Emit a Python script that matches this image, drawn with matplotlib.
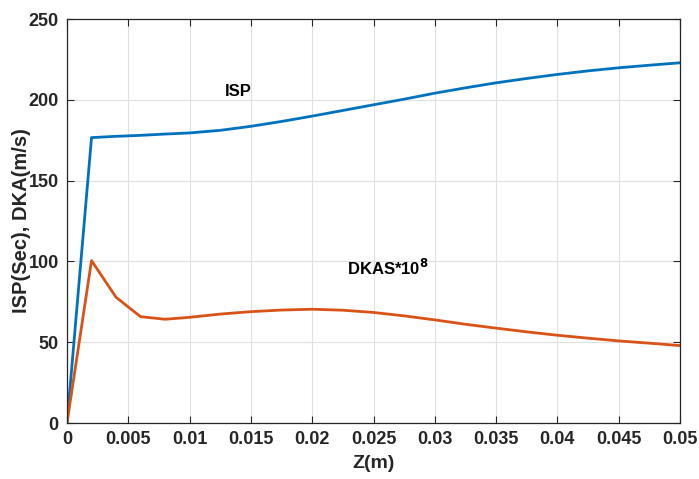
import matplotlib
matplotlib.use("Agg")
import matplotlib.pyplot as plt
from matplotlib import font_manager

z = [0, 0.002, 0.004, 0.006, 0.008, 0.010, 0.0125, 0.015, 0.0175, 0.020,
     0.0225, 0.025, 0.0275, 0.030, 0.0325, 0.035, 0.0375, 0.040, 0.0425,
     0.045, 0.0475, 0.050]
isp = [0, 176.6, 177.4, 178.0, 178.8, 179.5, 181.1, 183.6, 186.6, 189.9,
       193.4, 196.9, 200.4, 204.1, 207.4, 210.5, 213.2, 215.7, 217.9,
       219.8, 221.4, 222.9]
dkas = [0, 100.5, 77.8, 65.8, 64.2, 65.4, 67.4, 68.9, 69.9, 70.4,
        69.8, 68.4, 66.3, 63.8, 61.1, 58.7, 56.4, 54.3, 52.5,
        50.8, 49.4, 47.9]
xticks = [0, 0.005, 0.01, 0.015, 0.02, 0.025, 0.03, 0.035, 0.04, 0.045, 0.05]
xticklabels = ["0", "0.005", "0.01", "0.015", "0.02", "0.025", "0.03", "0.035", "0.04", "0.045", "0.05"]
yticks = [0, 50, 100, 150, 200, 250]

names = {f.name for f in font_manager.fontManager.ttflist}
fam = "Liberation Sans Narrow" if "Liberation Sans Narrow" in names else "Liberation Sans"
plt.rcParams["font.family"] = [fam, "DejaVu Sans"]
plt.rcParams["font.weight"] = "bold"

fig = plt.figure(figsize=(6.99, 4.79), dpi=100)
ax = fig.add_axes([67/699, 56/479, 613/699, 404/479])
ax.plot(z, isp, color="#0072BD", lw=2.0)
ax.plot(z, dkas, color="#D95319", lw=2.0)
ax.set_xlim(0, 0.05)
ax.set_ylim(0, 250)
ax.set_xticks(xticks)
ax.set_xticklabels(xticklabels)
ax.set_yticks(yticks)
ax.grid(True, color="#e0e0e0", lw=0.8)
ax.set_axisbelow(True)
ax.tick_params(direction="in", length=5, width=0.8, top=True, right=True,
               labelsize=13, colors="#262626", pad=6)
for lab in ax.get_xticklabels() + ax.get_yticklabels():
    lab.set_fontweight("bold")
for s in ax.spines.values():
    s.set_color("#262626")
    s.set_linewidth(0.9)
ax.set_xlabel("Z(m)", fontsize=14, fontweight="bold", color="#262626", labelpad=5)
ax.set_ylabel("ISP(Sec), DKA(m/s)", fontsize=14.5, fontweight="bold", color="#262626", labelpad=-2)
ax.text(0.0129, 205, "ISP", fontsize=12, fontweight="bold", va="center", ha="left",
        family=["Liberation Sans", "DejaVu Sans"])
ax.text(0.02285, 96, r"DKAS*10$^{\mathbf{8}}$", fontsize=12, fontweight="bold", va="center", ha="left",
        family=["Liberation Sans", "DejaVu Sans"])
fig.savefig("out.png", dpi=100)
